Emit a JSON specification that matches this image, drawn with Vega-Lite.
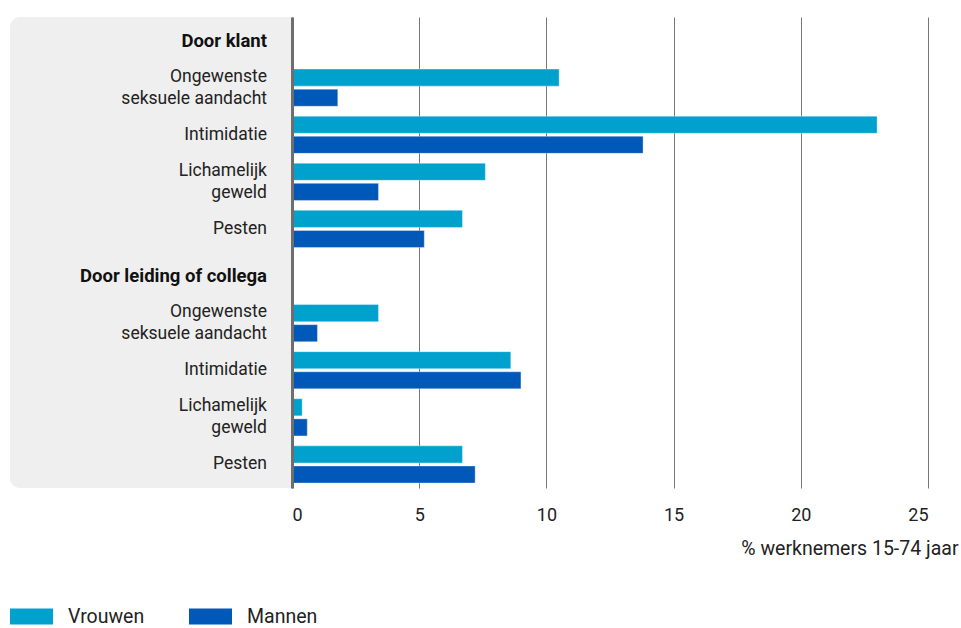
{
  "$schema": "https://vega.github.io/schema/vega-lite/v6.json",
  "padding": {"left": 10, "top": 17, "right": 2, "bottom": 0},
  "spacing": 0,
  "config": {
    "view": {"stroke": null},
    "font": "Roboto",
    "text": {"font": "Roboto"},
    "axis": {"labelFont": "Roboto", "titleFont": "Roboto"},
    "legend": {"labelFont": "Roboto"}
  },
  "resolve": {"scale": {"color": "shared"}, "legend": {"color": "shared"}},
  "datasets": {
    "panel": [{"a": 0, "b": 1}],
    "labels": [
      {"key": "h1", "text": "Door klant", "header": true},
      {"key": "k1", "text": "Ongewenste|seksuele aandacht", "header": false},
      {"key": "k2", "text": "Intimidatie", "header": false},
      {"key": "k3", "text": "Lichamelijk|geweld", "header": false},
      {"key": "k4", "text": "Pesten", "header": false},
      {"key": "h2", "text": "Door leiding of collega", "header": true},
      {"key": "l1", "text": "Ongewenste|seksuele aandacht", "header": false},
      {"key": "l2", "text": "Intimidatie", "header": false},
      {"key": "l3", "text": "Lichamelijk|geweld", "header": false},
      {"key": "l4", "text": "Pesten", "header": false}
    ],
    "bars": [
      {"key": "k1", "sex": "Vrouwen", "value": 10.5},
      {"key": "k1", "sex": "Mannen", "value": 1.8},
      {"key": "k2", "sex": "Vrouwen", "value": 23.0},
      {"key": "k2", "sex": "Mannen", "value": 13.8},
      {"key": "k3", "sex": "Vrouwen", "value": 7.6},
      {"key": "k3", "sex": "Mannen", "value": 3.4},
      {"key": "k4", "sex": "Vrouwen", "value": 6.7},
      {"key": "k4", "sex": "Mannen", "value": 5.2},
      {"key": "l1", "sex": "Vrouwen", "value": 3.4},
      {"key": "l1", "sex": "Mannen", "value": 1.0},
      {"key": "l2", "sex": "Vrouwen", "value": 8.6},
      {"key": "l2", "sex": "Mannen", "value": 9.0},
      {"key": "l3", "sex": "Vrouwen", "value": 0.4},
      {"key": "l3", "sex": "Mannen", "value": 0.6},
      {"key": "l4", "sex": "Vrouwen", "value": 6.7},
      {"key": "l4", "sex": "Mannen", "value": 7.2}
    ]
  },
  "hconcat": [
    {
      "width": 281,
      "height": 471,
      "layer": [
        {
          "data": {"name": "panel"},
          "mark": {"type": "rect", "color": "#efefef", "cornerRadiusTopLeft": 10, "cornerRadiusBottomLeft": 10},
          "encoding": {
            "x": {"field": "a", "type": "quantitative", "scale": {"domain": [0, 1], "nice": false}, "axis": null},
            "x2": {"field": "b"},
            "y": {"field": "a", "type": "quantitative", "scale": {"domain": [0, 1], "nice": false}, "axis": null},
            "y2": {"field": "b"}
          }
        },
        {
          "data": {"name": "labels"},
          "transform": [{"filter": "datum.header"}],
          "mark": {"type": "text", "align": "right", "baseline": "middle", "fontWeight": "bold", "fontSize": 18.5, "color": "#111111", "dx": -24},
          "encoding": {
            "x": {"datum": 1, "type": "quantitative"},
            "y": {"field": "key", "type": "nominal", "axis": null, "scale": {"domain": ["h1", "k1", "k2", "k3", "k4", "h2", "l1", "l2", "l3", "l4"]}},
            "text": {"field": "text"}
          }
        },
        {
          "data": {"name": "labels"},
          "transform": [{"filter": "!datum.header && indexof(datum.text, '|') < 0"}],
          "mark": {"type": "text", "align": "right", "baseline": "middle", "fontSize": 17.5, "color": "#222222", "dx": -24},
          "encoding": {
            "x": {"datum": 1, "type": "quantitative"},
            "y": {"field": "key", "type": "nominal", "axis": null, "scale": {"domain": ["h1", "k1", "k2", "k3", "k4", "h2", "l1", "l2", "l3", "l4"]}},
            "text": {"field": "text"}
          }
        },
        {
          "data": {"name": "labels"},
          "transform": [{"filter": "!datum.header && indexof(datum.text, '|') >= 0"}],
          "mark": {"type": "text", "align": "right", "baseline": "middle", "fontSize": 17.5, "color": "#222222", "dx": -24, "dy": -11, "lineBreak": "|", "lineHeight": 22},
          "encoding": {
            "x": {"datum": 1, "type": "quantitative"},
            "y": {"field": "key", "type": "nominal", "axis": null, "scale": {"domain": ["h1", "k1", "k2", "k3", "k4", "h2", "l1", "l2", "l3", "l4"]}},
            "text": {"field": "text"}
          }
        }
      ],
      "resolve": {"scale": {"y": "independent"}}
    },
    {
      "width": 636,
      "height": 471,
      "data": {"name": "bars"},
      "mark": {"type": "bar", "stroke": "#ffffff", "strokeWidth": 0.6, "strokeOpacity": 0.6},
      "encoding": {
        "y": {
          "field": "key", "type": "nominal",
          "scale": {"domain": ["h1", "k1", "k2", "k3", "k4", "h2", "l1", "l2", "l3", "l4"], "paddingInner": 0.21, "paddingOuter": 0.105},
          "axis": {"labels": false, "ticks": false, "title": null, "grid": false, "domain": true, "domainWidth": 3, "domainColor": "#6e6e6e", "zindex": 1}
        },
        "yOffset": {"field": "sex", "type": "nominal", "sort": ["Vrouwen", "Mannen"], "scale": {"paddingInner": 0.15}},
        "x": {
          "field": "value", "type": "quantitative",
          "scale": {"domain": [0, 25], "nice": false},
          "axis": {
            "values": [0, 5, 10, 15, 20, 25],
            "grid": true, "gridColor": "#777777", "gridWidth": 1,
            "domain": false, "ticks": false,
            "labelPadding": 18, "labelFontSize": 18, "labelColor": "#222222",
            "title": "% werknemers 15-74 jaar", "titleFontSize": 19.5, "titleFontWeight": "normal", "titleColor": "#222222",
            "titleAnchor": "end", "titleAlign": "right", "titleX": 666, "titleY": 66, "titleBaseline": "alphabetic",
            "zindex": 0
          }
        },
        "color": {
          "field": "sex", "type": "nominal",
          "scale": {"domain": ["Vrouwen", "Mannen"], "range": ["#00a2cd", "#0058b8"]},
          "legend": {
            "title": null, "orient": "bottom", "direction": "horizontal",
            "symbolType": "M-1,-0.372H1V0.372H-1Z", "symbolSize": 1849, "symbolStrokeWidth": 0, "symbolOpacity": 1,
            "labelFontSize": 19.5, "labelColor": "#222222", "labelOffset": 15, "columnPadding": 44, "offset": 37
          }
        }
      }
    }
  ]
}
